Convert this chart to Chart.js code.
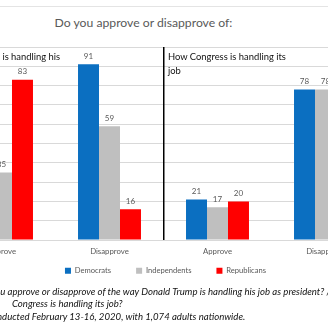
<!DOCTYPE html>
<html>
<head>
<meta charset="utf-8">
<script src="https://cdn.jsdelivr.net/npm/chart.js@4/dist/chart.umd.min.js"></script>
<style>
  html, body { margin:0; padding:0; background:#fff; }
  body { width:328px; height:328px; overflow:hidden; position:relative; font-family: Lato, "Open Sans", sans-serif; }
  #frame { position:absolute; left:0; top:6px; width:328px; height:0; border-top:1px solid #e4e4e4; }
  #title { position:absolute; left:0; top:15px; width:287px; text-align:center; font-size:12.2px; line-height:16px; color:#595959; white-space:nowrap; }
  #c { position:absolute; left:-80px; top:0; }
  .sub { position:absolute; font-size:9.4px; line-height:14px; color:#111; white-space:nowrap; }
  #subT { right:268px; top:50px; }
  #subC { left:168px; top:50px; }
  .fn { position:absolute; font-size:9.6px; line-height:12px; font-style:italic; color:#111; white-space:nowrap; }
</style>
</head>
<body>
<div id="frame"></div>
<div id="title">Do you approve or disapprove of:</div>
<canvas id="c" width="493" height="306"></canvas>
<div class="sub" id="subT">How Donald Trump is handling his<br>job</div>
<div class="sub" id="subC">How Congress is handling its<br>job</div>
<div class="fn" style="left:-23px;top:286px;">Do you approve or disapprove of the way Donald Trump is handling his job as president? / Do you approve or disapprove of the way</div>
<div class="fn" style="left:12px;top:298px;">Congress is handling its job?</div>
<div class="fn" style="left:-41px;top:311px;">Survey conducted February 13-16, 2020, with 1,074 adults nationwide.</div>
<script>
const categories = ['Approve', 'Disapprove', 'Approve', 'Disapprove'];
const seriesNames = ['Democrats', 'Independents', 'Republicans'];
const democrats = [7, 91, 21, 78];
const independents = [35, 59, 17, 78];
const republicans = [83, 16, 20, 77];
const yMin = 0, yMax = 100, yStep = 10;

const colors = ['#0b6fc1', '#bfbfbf', '#ff0000'];
const fontFamily = 'Lato, "Open Sans", sans-serif';

const valueLabels = {
  id: 'valueLabels',
  afterDatasetsDraw(chart) {
    const ctx = chart.ctx;
    ctx.save();
    ctx.font = '8px ' + fontFamily;
    ctx.fillStyle = '#595959';
    ctx.textAlign = 'center';
    ctx.textBaseline = 'bottom';
    chart.data.datasets.forEach((ds, i) => {
      chart.getDatasetMeta(i).data.forEach((bar, j) => {
        ctx.fillText(String(ds.data[j]), bar.x, bar.y - 4);
      });
    });
    ctx.restore();
  }
};

const legendShift = {
  id: 'legendShift',
  afterLayout(chart) {
    const lg = chart.legend;
    if (lg) {
      lg.top -= 21.5;
      lg.bottom -= 21.5;
      lg.left += 2;
      lg.right += 2;
      if (lg.adjustHitBoxes) lg.adjustHitBoxes();
    }
  }
};

new Chart(document.getElementById('c'), {
  type: 'bar',
  data: {
    labels: categories,
    datasets: [
      { label: seriesNames[0], data: democrats, backgroundColor: colors[0] },
      { label: seriesNames[1], data: independents, backgroundColor: colors[1] },
      { label: seriesNames[2], data: republicans, backgroundColor: colors[2] }
    ]
  },
  options: {
    responsive: false,
    animation: false,
    devicePixelRatio: 1,
    categoryPercentage: 0.583,
    barPercentage: 1.0,
    layout: { padding: { left: 27.5, right: 33.5, top: 47, bottom: 0 } },
    scales: {
      y: {
        min: yMin, max: yMax,
        ticks: { display: false, stepSize: yStep },
        grid: { color: '#d9d9d9', lineWidth: 1, drawTicks: false },
        border: { display: false }
      },
      x: {
        ticks: { color: '#595959', font: { size: 7.8, family: fontFamily }, padding: 7 },
        grid: {
          offset: true,
          drawTicks: false,
          color: (c) => (c.index === 2 ? '#000000' : 'rgba(0,0,0,0)'),
          lineWidth: (c) => (c.index === 2 ? 1.5 : 0)
        },
        border: { display: false }
      }
    },
    plugins: {
      legend: {
        position: 'bottom',
        labels: {
          boxWidth: 6, boxHeight: 6, padding: 25,
          color: '#595959',
          font: { size: 7.6, family: fontFamily }
        }
      },
      tooltip: { enabled: false }
    }
  },
  plugins: [valueLabels, legendShift]
});
</script>
</body>
</html>
